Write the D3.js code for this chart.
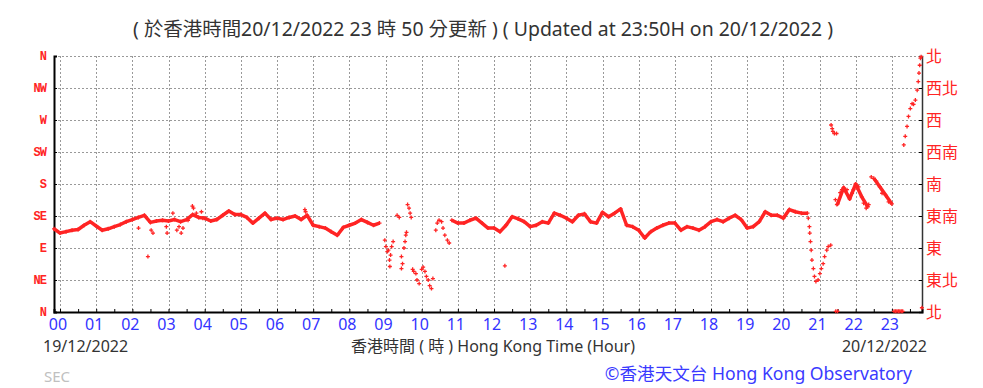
<!DOCTYPE html>
<html>
<head>
<meta charset="utf-8">
<script src="https://cdn.jsdelivr.net/npm/d3@7"></script>
<style>
  body { margin: 0; background: #fff; }
  svg { display: block; }
</style>
</head>
<body>
<div id="chart"></div>
<script>
// Wind direction (degrees) every 10 minutes, first reading at 23:50 on 19/12/2022
var start_hour = -1/6;
var dirs = [
  117, 111, 113, 115, 116, 122, 127, 121, 115, 117, 120, 123, 127,
  130, 133, 136, 126, 128, 129, 128, 130, 127, 130, 137, 133,
  132, 128, 130, 136, 142, 137, 137, 133, 125, 132, 139, 130,
  132, 130, 133, 135, 130, 136, 122, 120, 118, 113, 108, 119,
  122, 125, 130, 126, 122, 125,
  null, null, null, null, null, null, null, null, null, null, null,
  129, 125, 125, 129, 132, 125, 118,
  118, 113, 122, 134, 131, 127, 120, 122, 127, 125, 139, 136,
  132, 127, 136, 138, 127, 125, 140, 134, 139, 145, 122, 120,
  115, 104, 113, 118, 122, 125, 125, 115, 120, 118, 115, 120,
  127, 130, 127, 132, 136, 130, 118, 120, 127, 141, 136, 136,
  132, 144, 141, 139, 139, null, null, null, null,
  152, 175, 159, 180, 162, 148, 188, 176, 164, 152,
  null, null, null, null, null
];

// readings that jump about, drawn as single points: [hour, degrees]
var scatter = [
  [2.17, 118], [2.43, 78], [2.52, 115], [2.57, 111], [2.94, 120], [2.96, 111],
  [3.12, 139], [3.23, 115], [3.29, 120], [3.35, 111], [3.40, 118], [3.54, 129],
  [3.66, 149], [3.69, 146], [3.77, 139], [3.91, 141], [3.95, 132],
  [6.77, 144], [6.79, 141],
  [8.98, 101], [9.01, 92], [9.05, 85], [9.08, 87], [9.11, 73], [9.12, 64],
  [9.14, 80], [9.17, 92], [9.21, 99], [9.32, 136], [9.38, 133], [9.44, 78],
  [9.44, 61], [9.47, 68], [9.51, 90], [9.54, 99], [9.56, 108], [9.58, 112],
  [9.61, 151], [9.65, 146], [9.68, 139], [9.71, 133], [9.75, 60], [9.78, 57],
  [9.84, 54], [9.87, 45], [9.93, 40], [10.00, 60], [10.04, 63], [10.09, 57],
  [10.13, 50], [10.18, 45], [10.22, 37], [10.27, 33], [10.31, 47],
  [10.39, 115], [10.43, 125], [10.48, 129], [10.55, 127], [10.59, 118],
  [10.64, 108], [10.71, 101], [10.76, 97],
  [12.30, 65],
  [20.69, 132], [20.72, 120], [20.73, 111], [20.75, 99], [20.77, 87], [20.79, 73],
  [20.83, 61], [20.86, 50], [20.90, 43], [20.96, 45], [21.01, 54], [21.05, 61],
  [21.10, 68], [21.14, 78], [21.20, 87], [21.24, 92], [21.31, 94],
  [21.32, 263], [21.35, 258], [21.37, 254], [21.41, 251], [21.47, 251],
  [21.45, 1], [21.50, 1],
  [21.44, 158], [21.48, 151], [21.57, 168], [21.62, 172], [21.76, 172],
  [21.90, 167], [21.94, 172], [22.08, 176], [22.22, 153], [22.29, 146], [22.36, 151],
  [22.43, 190], [22.57, 184], [22.73, 167], [22.91, 155],
  [23.06, 1], [23.10, 1], [23.14, 1], [23.18, 1], [23.22, 1], [23.26, 1], [23.30, 1],
  [23.33, 235], [23.37, 247], [23.42, 261], [23.46, 275], [23.51, 286], [23.56, 293],
  [23.60, 292], [23.65, 298], [23.70, 312], [23.73, 324], [23.75, 336], [23.77, 347],
  [23.79, 357], [23.81, 359], [23.83, 6]
];

var left_labels = ["N", "NE", "E", "SE", "S", "SW", "W", "NW", "N"];
var right_labels = ["北", "東北", "東", "東南", "南", "西南", "西", "西北", "北"];
var hour_labels = ["00", "01", "02", "03", "04", "05", "06", "07", "08", "09", "10", "11",
                   "12", "13", "14", "15", "16", "17", "18", "19", "20", "21", "22", "23"];

var width = 983, height = 388;
var plot = {left: 54, right: 922, top: 56, bottom: 312};
var red = "#ff2424";

var svg = d3.select("#chart")
  .append("svg")
    .attr("width", width)
    .attr("height", height);

var x = d3.scaleLinear()
  .domain([start_hour, start_hour + 24])
  .range([plot.left, plot.right]);

var y = d3.scaleLinear()
  .domain([0, 360])
  .range([plot.bottom, plot.top]);

var levels = d3.range(0, 361, 45);

// Title
svg.append("text")
  .attr("x", 483)
  .attr("y", 36)
  .attr("text-anchor", "middle")
  .attr("textLength", 700)
  .attr("lengthAdjust", "spacingAndGlyphs")
  .style("font-family", "Noto Sans, Noto Sans CJK TC, sans-serif")
  .style("font-size", "19px")
  .style("fill", "#333")
  .text("( 於香港時間20/12/2022 23 時 50 分更新 ) ( Updated at 23:50H on 20/12/2022 )");

// Grid lines
svg.append("g")
  .selectAll("line")
  .data(levels.slice(1))
  .enter().append("line")
    .attr("x1", plot.left)
    .attr("x2", plot.right)
    .attr("y1", function(d) { return y(d) + 0.5; })
    .attr("y2", function(d) { return y(d) + 0.5; })
    .attr("stroke", "#999")
    .attr("stroke-dasharray", "2,2");

svg.append("g")
  .selectAll("line")
  .data(d3.range(0, 24))
  .enter().append("line")
    .attr("x1", function(d) { return Math.round(x(d)) + 0.5; })
    .attr("x2", function(d) { return Math.round(x(d)) + 0.5; })
    .attr("y1", plot.top)
    .attr("y2", plot.bottom)
    .attr("stroke", "#999")
    .attr("stroke-dasharray", "2,2");

// Axes: left, right, bottom
var axisLeft = d3.axisRight(y).tickValues(levels).tickSize(3).tickFormat("");
svg.append("g")
  .attr("transform", "translate(" + plot.left + ",0)")
  .call(axisLeft)
  .call(function(g) { g.select(".domain").attr("stroke-width", 2); });

var axisRight = d3.axisLeft(y).tickValues(levels).tickSize(3).tickFormat("");
svg.append("g")
  .attr("transform", "translate(" + plot.right + ",0)")
  .call(axisRight)
  .call(function(g) { g.select(".domain").attr("stroke-width", 1.5).attr("stroke", "#333"); });

var axisBottom = d3.axisTop(x)
  .tickValues(d3.range(0, 24).map(function(h) { return h + 0.5; }).concat(d3.range(0, 24)))
  .tickSize(3).tickFormat("");
svg.append("g")
  .attr("transform", "translate(0," + plot.bottom + ")")
  .call(axisBottom)
  .call(function(g) { g.select(".domain").attr("stroke-width", 2); });

// Direction labels
svg.append("g")
  .selectAll("text")
  .data(left_labels)
  .enter().append("text")
    .attr("x", 46)
    .attr("y", function(d, i) { return y(levels[i]) + 4; })
    .attr("text-anchor", "end")
    .style("font-family", "Liberation Mono, monospace")
    .style("font-weight", "bold")
    .style("font-size", "12px")
    .style("letter-spacing", "-1px")
    .style("fill", red)
    .text(function(d) { return d; });

svg.append("g")
  .selectAll("text")
  .data(right_labels)
  .enter().append("text")
    .attr("x", 926)
    .attr("y", function(d, i) { return y(levels[i]) + 6; })
    .style("font-family", "Noto Sans CJK TC, sans-serif")
    .style("font-size", "16px")
    .style("fill", red)
    .text(function(d) { return d; });

// Hour labels
svg.append("g")
  .selectAll("text")
  .data(hour_labels)
  .enter().append("text")
    .attr("x", function(d, i) { return x(i) - 2; })
    .attr("y", 330)
    .attr("text-anchor", "middle")
    .style("font-family", "Noto Sans, sans-serif")
    .style("font-size", "16px")
    .style("fill", "#3333ff")
    .text(function(d) { return d; });

// Bottom texts
var bottomFont = "Noto Sans, Noto Sans CJK TC, sans-serif";
svg.append("text")
  .attr("x", 43).attr("y", 352)
  .style("font-family", bottomFont).style("font-size", "16px").style("fill", "#333")
  .text("19/12/2022");
svg.append("text")
  .attr("x", 927).attr("y", 352)
  .attr("text-anchor", "end")
  .style("font-family", bottomFont).style("font-size", "16px").style("fill", "#333")
  .text("20/12/2022");
svg.append("text")
  .attr("x", 493).attr("y", 352)
  .attr("text-anchor", "middle")
  .style("font-family", bottomFont).style("font-size", "16px").style("fill", "#333")
  .text("香港時間 ( 時 ) Hong Kong Time (Hour)");
svg.append("text")
  .attr("x", 44).attr("y", 382)
  .style("font-family", bottomFont).style("font-size", "15px").style("fill", "#c0c0c0")
  .text("SEC");
svg.append("text")
  .attr("x", 912).attr("y", 380)
  .attr("text-anchor", "end")
  .style("font-family", bottomFont).style("font-size", "17.6px").style("fill", "#3a3aff")
  .text("©香港天文台 Hong Kong Observatory");

// Data points
var points = dirs.map(function(d, i) { return {h: start_hour + i / 6, dir: d}; });

// split into runs where the direction changes smoothly
var runs = [], run = [];
points.forEach(function(p, i) {
  var prev = points[i - 1];
  if (p.dir == null || (prev && prev.dir != null && Math.abs(p.dir - prev.dir) > 25)) {
    if (run.length) runs.push(run);
    run = [];
  }
  if (p.dir != null) run.push(p);
});
if (run.length) runs.push(run);

var line = d3.line()
  .x(function(d) { return x(d.h); })
  .y(function(d) { return y(d.dir); });

svg.append("g")
  .selectAll("path")
  .data(runs.filter(function(r) { return r.length > 1; }))
  .enter().append("path")
    .attr("fill", "none")
    .attr("stroke", red)
    .attr("stroke-width", 3.5)
    .attr("stroke-linejoin", "round")
    .attr("d", line);

var cross = "M-2,0H2M0,-2V2";
var all = points.filter(function(p) { return p.dir != null; })
  .concat(scatter.map(function(s) { return {h: s[0], dir: s[1]}; }));

svg.append("g")
  .selectAll("path")
  .data(all)
  .enter().append("path")
    .attr("transform", function(d) { return "translate(" + x(d.h) + "," + y(d.dir) + ")"; })
    .attr("d", cross)
    .attr("stroke", red)
    .attr("stroke-width", 1.3)
    .attr("fill", "none");
</script>
</body>
</html>
